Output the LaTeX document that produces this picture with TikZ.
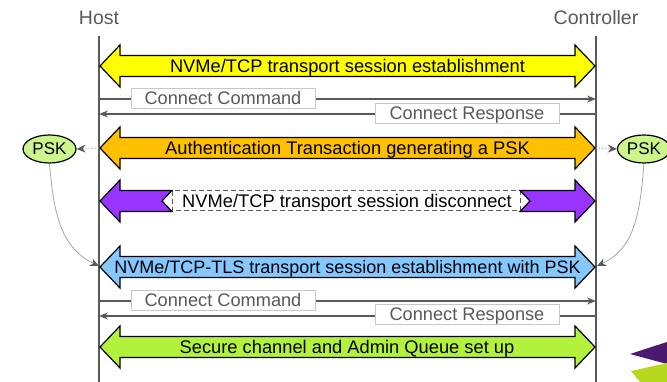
\documentclass[tikz,border=0pt]{standalone}
\usepackage{fontspec}
\setmainfont{Liberation Sans}
\usetikzlibrary{arrows.meta,shapes.geometric}

\definecolor{linegray}{HTML}{595959}
\definecolor{boxgray}{HTML}{C8C8C8}
\definecolor{curvegray}{HTML}{A6A6A6}
\definecolor{estyellow}{HTML}{FFFF00}
\definecolor{authorange}{HTML}{FFC000}
\definecolor{discpurple}{HTML}{9933FF}
\definecolor{tlsblue}{HTML}{85C8FF}
\definecolor{securegreen}{HTML}{B3F23C}
\definecolor{pskgreen}{HTML}{CCF58C}
\definecolor{logopurple}{HTML}{4B1A6E}
\definecolor{logolime}{HTML}{B8D81E}

% double-headed session arrow between the two lifelines, centred at height #1
\newcommand{\sessarrow}[2]{%
  \draw[bigarr, fill=#2] (100,#1) -- (120,{#1-21}) -- (120,{#1-10.5}) -- (575,{#1-10.5})
    -- (575,{#1-21}) -- (595,#1) -- (575,{#1+21}) -- (575,{#1+10.5})
    -- (120,{#1+10.5}) -- (120,{#1+21}) -- cycle;}

\tikzset{
  hdr/.style={font=\fontsize{19.5}{22}\selectfont, text=linegray, inner sep=0pt},
  life/.style={draw=linegray, line width=1.5pt},
  bigarr/.style={draw=black, line width=1.2pt, line join=miter},
  atext/.style={font=\fontsize{18.3}{20}\selectfont, text=black, inner sep=0pt,
                text height=13pt, text depth=0pt},
  msg/.style={draw=linegray, line width=1.2pt, -{Stealth[length=9pt,width=7pt]}},
  lbl/.style={draw=boxgray, fill=white, line width=0.8pt, text=linegray,
              font=\fontsize{18.2}{20}\selectfont, inner sep=0pt,
              text height=13pt, text depth=0pt, minimum height=20pt},
  psk/.style={ellipse, draw=black, line width=1.2pt, fill=pskgreen,
              minimum width=53pt, minimum height=28pt, inner sep=0pt,
              font=\fontsize{17}{19}\selectfont},
  pskarr/.style={draw=curvegray, line width=1.1pt, dotted,
                 -{Stealth[length=9pt,width=8pt,color=linegray,fill=linegray]}},
  curvearr/.style={draw=curvegray, line width=0.8pt,
                   -{Stealth[length=9pt,width=8pt,color=linegray,fill=linegray]}},
}

\begin{document}
\begin{tikzpicture}[x=1pt,y=-1pt]
\useasboundingbox (0,0) rectangle (667,382);

% lifelines
\node[hdr] (host) at (99,18) {Host};
\node[hdr] (ctrl) at (596,18) {Controller};
\coordinate (hostTop) at (99,36);
\coordinate (hostBot) at (99,382);
\coordinate (ctrlTop) at (596,36);
\coordinate (ctrlBot) at (596,382);
\draw[life] (hostTop) -- (hostBot);
\draw[life] (ctrlTop) -- (ctrlBot);

% plain transport session
\sessarrow{66}{estyellow}
\node[atext] (est) at (347.5,66) {NVMe/TCP transport session establishment};

\coordinate (cmdH1) at (99,99);
\coordinate (cmdC1) at (596,99);
\draw[msg] (cmdH1) -- (cmdC1);
\node[lbl, minimum width=184pt] (cmd1) at (223,98) {Connect Command};
\coordinate (rspC1) at (596,114);
\coordinate (rspH1) at (99,114);
\draw[msg] (rspC1) -- (rspH1);
\node[lbl, minimum width=184pt] (rsp1) at (467,113.5) {Connect Response};

% authentication and PSK
\sessarrow{148}{authorange}
\node[atext] (auth) at (347.5,148) {Authentication Transaction generating a PSK};
\node[psk] (pskL) at (49.5,149) {PSK};
\node[psk] (pskR) at (644,149) {PSK};
\coordinate (authH) at (99,148);
\coordinate (authC) at (596,148);
\draw[pskarr] (authH) -- (pskL.east);
\draw[pskarr] (authC) -- (pskR.west);

% disconnect
\draw[draw=linegray, line width=1pt, dash pattern=on 5pt off 3pt, fill=white]
  (172,191) rectangle (520,211);
\draw[bigarr, fill=discpurple] (100,201) -- (120,180) -- (120,190.5) -- (172,190.5)
  -- (162,201) -- (172,211.5) -- (120,211.5) -- (120,222) -- cycle;
\draw[bigarr, fill=discpurple] (520,190.5) -- (575,190.5) -- (575,180) -- (595,201)
  -- (575,222) -- (575,211.5) -- (520,211.5) -- (530,201) -- cycle;
\node[atext] (disc) at (347,201) {NVMe/TCP transport session disconnect};

% TLS transport session using the PSK
\sessarrow{267}{tlsblue}
\node[atext, font=\fontsize{18}{20}\selectfont] (tls) at (347.5,267) {NVMe/TCP-TLS transport session establishment with PSK};
\coordinate (tlsH) at (99,266);
\coordinate (tlsC) at (597,266);
\draw[curvearr] (pskL.south) to[out=-85,in=155] (tlsH);
\draw[curvearr] (pskR.south) to[out=-95,in=25] (tlsC);

\coordinate (cmdH2) at (99,301);
\coordinate (cmdC2) at (596,301);
\draw[msg] (cmdH2) -- (cmdC2);
\node[lbl, minimum width=184pt] (cmd2) at (223,300) {Connect Command};
\coordinate (rspC2) at (596,316);
\coordinate (rspH2) at (99,316);
\draw[msg] (rspC2) -- (rspH2);
\node[lbl, minimum width=184pt] (rsp2) at (467,314) {Connect Response};

% secure channel
\sessarrow{347}{securegreen}
\node[atext] (sec) at (347,347) {Secure channel and Admin Queue set up};

% corner logo fragment
\fill[logopurple] (630,354) -- (667,342) -- (667,364) -- cycle;
\fill[logolime] (631,371) -- (667,363) -- (667,382) -- (640,382) -- cycle;
\end{tikzpicture}
\end{document}
